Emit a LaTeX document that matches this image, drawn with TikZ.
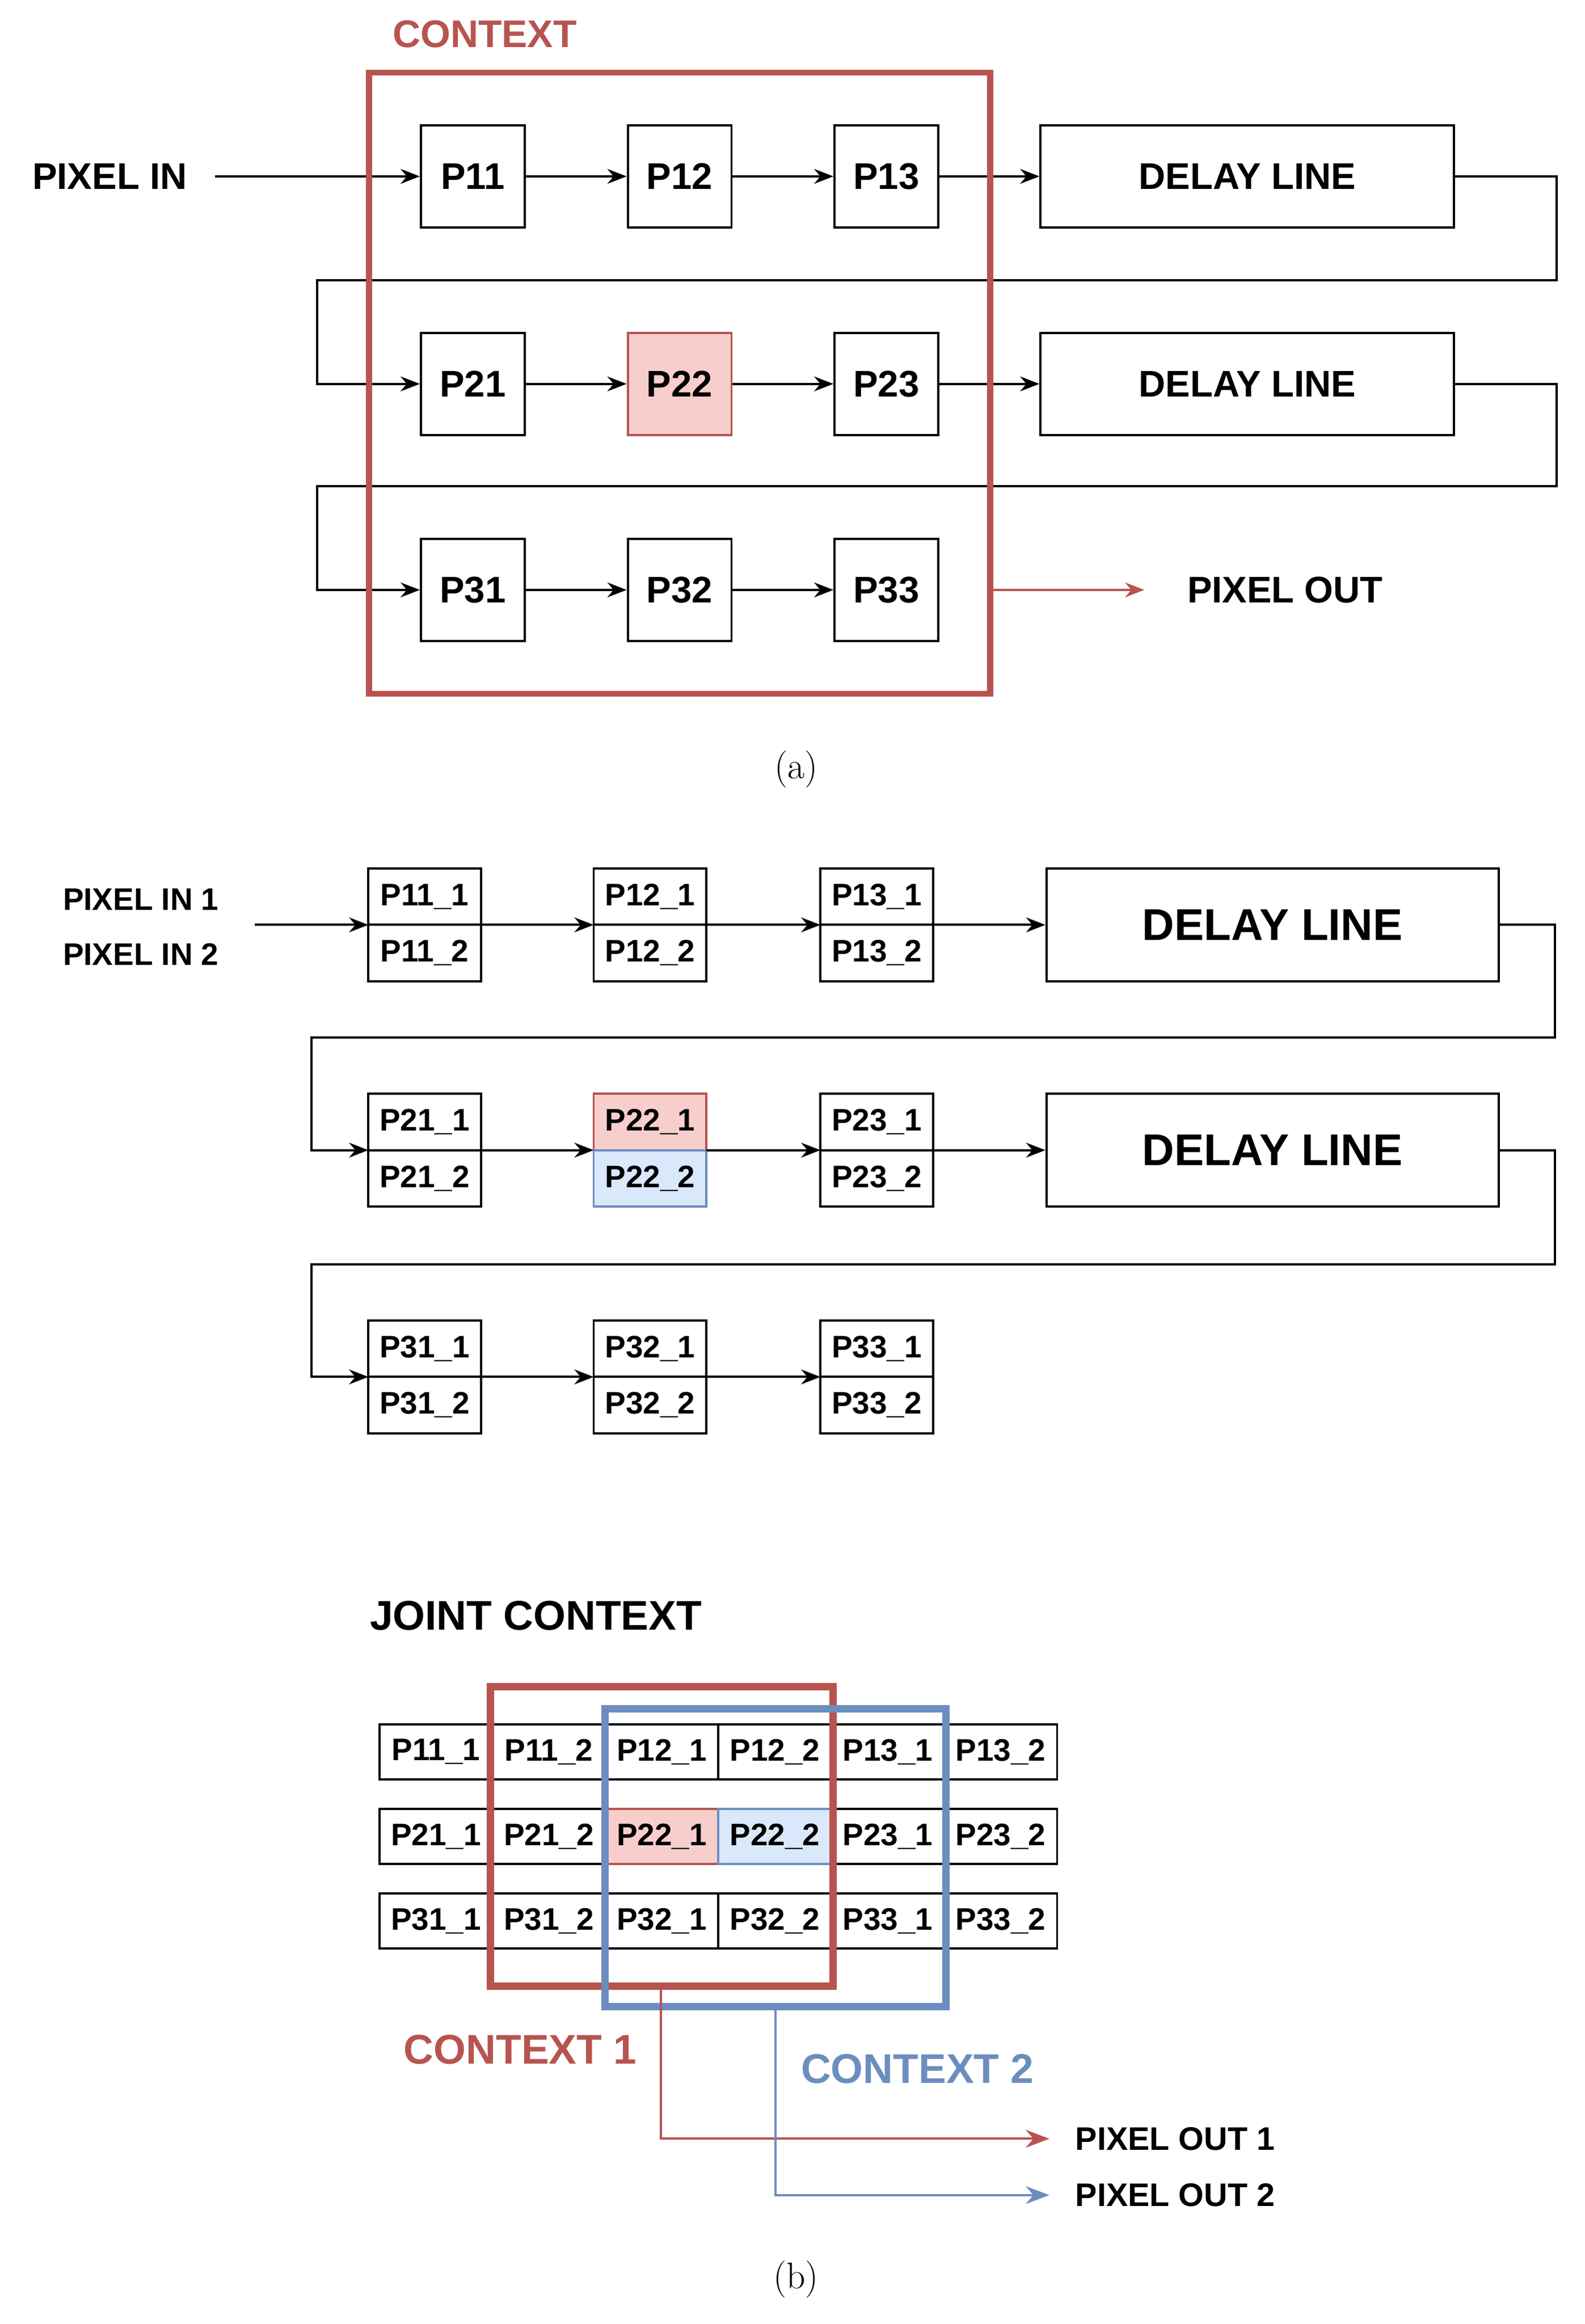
\documentclass[tikz,border=0pt]{standalone}
\usepackage{fontspec}
\setmainfont{Liberation Sans}
\newfontfamily\capfont{Latin Modern Roman}
\usetikzlibrary{arrows.meta}
\definecolor{cred}{HTML}{B85450}
\definecolor{cblue}{HTML}{6C8EBF}
\definecolor{fred}{HTML}{F8CECC}
\definecolor{fblue}{HTML}{DAE8FC}
\begin{document}
\begin{tikzpicture}[x=1pt,y=-1pt,
  every node/.style={font=\bfseries},
  pa/.style={draw,line width=1.5pt,minimum width=70pt,minimum height=69pt,inner sep=0pt,font=\fontsize{25}{25}\bfseries\selectfont},
  dla/.style={draw,line width=1.5pt,minimum width=279pt,minimum height=69pt,inner sep=0pt,font=\fontsize{25}{25}\bfseries\selectfont},
  pb/.style={draw,line width=1.5pt,minimum width=76pt,minimum height=38pt,inner sep=0pt,font=\fontsize{21}{21}\bfseries\selectfont},
  dlb/.style={draw,line width=1.5pt,minimum width=305pt,minimum height=76pt,inner sep=0pt,font=\fontsize{30}{30}\bfseries\selectfont},
  pc/.style={draw,line width=1.5pt,minimum width=76.2pt,minimum height=37pt,inner sep=0pt,font=\fontsize{21}{21}\bfseries\selectfont},
  conn/.style={line width=1.5pt,-{Stealth[length=13pt,width=10pt]}},
  capt/.style={font=\capfont\fontsize{25}{25}\selectfont}]
\useasboundingbox (0,0) rectangle (1069,1568);
% ---------- (a)
\node[text=cred,font=\fontsize{26}{26}\bfseries\selectfont] (ctx) at (327,23) {CONTEXT};
\node[font=\fontsize{25}{25}\bfseries\selectfont] (pin) at (74,119) {PIXEL IN};
\foreach \r/\y in {1/119,2/259,3/398}{
  \foreach \c/\x in {1/319,2/458.5,3/598}{
    \node[pa] (a\r\c) at (\x,\y) {P\r\c};
  }}
\node[pa,fill=fred,draw=cred] (a22) at (458.5,259) {P22};
\node[dla] (dA) at (841.5,119) {DELAY LINE};
\node[dla] (dB) at (841.5,259) {DELAY LINE};
\coordinate (pinE) at (145,119);
\draw[conn] (pinE) -- (a11);
\foreach \r in {1,2,3}{
  \draw[conn] (a\r1) -- (a\r2);
  \draw[conn] (a\r2) -- (a\r3);}
\draw[conn] (a13) -- (dA);
\draw[conn] (a23) -- (dB);
\draw[conn] (dA.east) -- (1050,119) -- (1050,189) -- (214,189) -- (214,259) -- (a21.west);
\draw[conn] (dB.east) -- (1050,259) -- (1050,328) -- (214,328) -- (214,398) -- (a31.west);
\draw[cred,line width=4pt] (249,49) rectangle (668,468);
\coordinate (ctxR) at (669,398);
\node[font=\fontsize{25}{25}\bfseries\selectfont] (pout) at (867,398) {PIXEL OUT};
\draw[cred,line width=1.2pt,-{Stealth[length=13pt,width=10pt]}] (ctxR) -- (772,398);
\node[capt] (capa) at (537,519) {(a)};
% ---------- (b)
\node[font=\fontsize{21}{21}\bfseries\selectfont] (pin1) at (95,607) {PIXEL IN 1};
\node[font=\fontsize{21}{21}\bfseries\selectfont] (pin2) at (95,644) {PIXEL IN 2};
\foreach \r/\y in {1/624,2/776,3/929}{
  \foreach \c/\x in {1/286.5,2/438.5,3/591.5}{
    \node[pb] (b\r\c t) at (\x,\y-19) {P\r\c\_1};
    \node[pb] (b\r\c b) at (\x,\y+19) {P\r\c\_2};
    \coordinate (b\r\c) at (\x-38,\y);
    \coordinate (b\r\c o) at (\x+38,\y);
  }}
\node[pb,fill=fred,draw=cred] (b22t) at (438.5,757) {P22\_1};
\node[pb,fill=fblue,draw=cblue] (b22b) at (438.5,795) {P22\_2};
\node[dlb] (dC) at (858.5,624) {DELAY LINE};
\node[dlb] (dD) at (858.5,776) {DELAY LINE};
\coordinate (pinS) at (172,624);
\draw[conn] (pinS) -- (b11);
\foreach \r in {1,2,3}{
  \draw[conn] (b\r1o) -- (b\r2);
  \draw[conn] (b\r2o) -- (b\r3);}
\draw[conn] (b13o) -- (dC.west);
\draw[conn] (b23o) -- (dD.west);
\draw[conn] (dC.east) -- (1049,624) -- (1049,700) -- (210,700) -- (210,776) -- (b21);
\draw[conn] (dD.east) -- (1049,776) -- (1049,853) -- (210,853) -- (210,929) -- (b31);
% ---------- joint context
\node[anchor=west,font=\fontsize{28}{28}\bfseries\selectfont] (jc) at (246,1090) {JOINT CONTEXT};
\foreach \r/\y in {1/1182,2/1239,3/1296}{
  \foreach \c in {1,2,3}{
    \foreach \k in {1,2}{
      \pgfmathsetmacro\xx{256+76.2*(2*\c+\k-3)+38.1}
      \node[pc] (c\r\c\k) at (\xx,\y) {P\r\c\_\k};
  }}}
\node[pc,fill=fred,draw=cred] (c221) at (446.5,1239) {P22\_1};
\node[pc,fill=fblue,draw=cblue] (c222) at (522.7,1239) {P22\_2};
\draw[cred,line width=5pt] (331,1138) rectangle (562,1340);
\draw[cblue,line width=5pt] (408,1153) rectangle (638,1354);
\node[text=cred,font=\fontsize{28}{28}\bfseries\selectfont] (ct1) at (351,1383) {CONTEXT 1};
\node[text=cblue,font=\fontsize{28}{28}\bfseries\selectfont] (ct2) at (619,1396) {CONTEXT 2};
\node[anchor=west,font=\fontsize{22}{22}\bfseries\selectfont] (po1) at (722,1443) {PIXEL OUT 1};
\node[anchor=west,font=\fontsize{22}{22}\bfseries\selectfont] (po2) at (722,1481) {PIXEL OUT 2};
\coordinate (r1) at (446,1342);
\coordinate (r2) at (523,1356);
\draw[cred,line width=1.5pt,-{Stealth[length=16pt,width=12pt]}] (r1) -- (446,1443) -- (708,1443);
\draw[cblue,line width=1.5pt,-{Stealth[length=16pt,width=12pt]}] (r2) -- (523,1481) -- (708,1481);
\node[capt] (capb) at (537,1538) {(b)};
\end{tikzpicture}
\end{document}
